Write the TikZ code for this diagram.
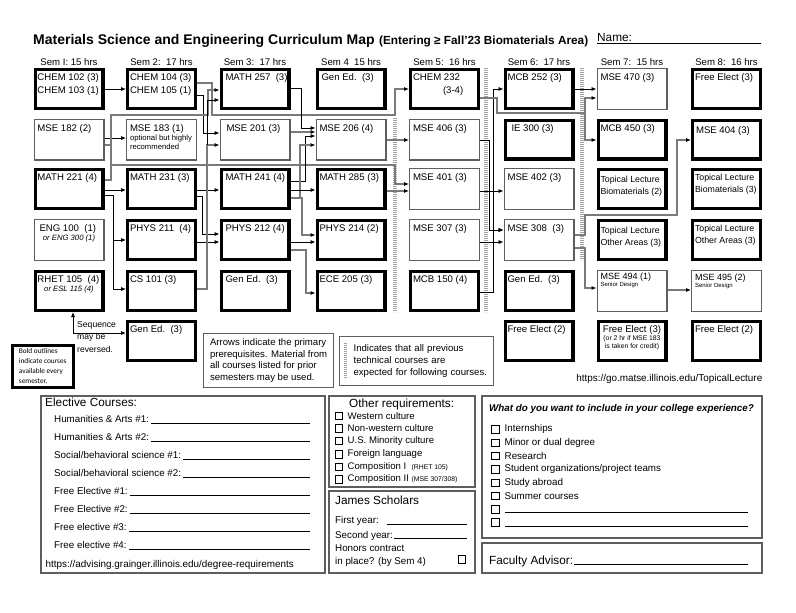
\documentclass[tikz,border=0pt]{standalone}
\usepackage{fontspec}
\setmainfont{Liberation Sans}
\newfontfamily\legendfamily{Carlito}
\usetikzlibrary{arrows.meta}
\definecolor{boxgray}{HTML}{5E5E5E}
\definecolor{linegray}{HTML}{7A7A7A}
\definecolor{sepgray}{HTML}{A3A3A3}
\newcommand{\crsfont}{\fontsize{9.6}{12.4}\selectfont}
\newcommand{\notefont}{\fontsize{7.7}{9}\selectfont}
\newcommand{\tinyfont}{\fontsize{6.8}{8}\selectfont}
\newcommand{\tlfont}{\fontsize{8.8}{12}\selectfont}
\newcommand{\crs}[1]{\parbox[c][30pt][t]{65pt}{\crsfont\raggedright\leftskip=1pt #1}}
\tikzset{
  bbox/.style={draw=black, line width=3.4pt, minimum width=67.6pt, minimum height=38.6pt, inner sep=0pt},
  tbox/.style={draw=boxgray, line width=1.2pt, minimum width=69.8pt, minimum height=40.8pt, inner sep=0pt},
  blk/.style={draw=black, line width=0.9pt, -{Latex[length=5pt,width=4.2pt]}},
  gry/.style={draw=linegray, line width=1.3pt, -{Latex[length=5pt,width=4.2pt,color=black]}},
  sep/.style={draw=sepgray, line width=3.6pt, dash pattern=on 1.1pt off 0.9pt},
  semlbl/.style={inner sep=0pt, font=\fontsize{9.6}{11}\selectfont},
  panel/.style={draw=boxgray, line width=1.2pt},
  txt/.style={inner sep=0pt, anchor=base west, font=\fontsize{9.8}{12}\selectfont},
  head/.style={inner sep=0pt, anchor=base west, font=\fontsize{11.8}{14}\selectfont},
  uline/.style={line width=0.8pt},
  chk/.style={draw=black, line width=0.7pt, minimum size=7.5pt, inner sep=0pt},
}
\begin{document}
\begin{tikzpicture}[x=1pt, y=-1pt]
\useasboundingbox (0,0) rectangle (796,613);
\fill[white] (0,0) rectangle (796,613);

% title line
\node[inner sep=0pt, anchor=base west, font=\bfseries\fontsize{14}{16}\selectfont] (title) at (33,45) {Materials Science and Engineering Curriculum Map};
\node[inner sep=0pt, anchor=base west, font=\bfseries\fontsize{11.8}{14}\selectfont] (subtitle) at ([xshift=4pt]title.base east) {(Entering ≥ Fall’23 Biomaterials Area)};
\node[head] (name) at (597,41.5) {Name:};
\draw[uline] (name.base west |- 0,43.5) -- (761,43.5);

% semester headings
\node[semlbl] (sem1) at (69,61.7) {Sem I: 15 hrs};
\node[semlbl] (sem2) at (161.5,61.7) {Sem 2:\ \ 17 hrs};
\node[semlbl] (sem3) at (255,61.7) {Sem 3:\ \ 17 hrs};
\node[semlbl] (sem4) at (351,61.7) {Sem 4\ \ 15 hrs};
\node[semlbl] (sem5) at (444.5,61.7) {Sem 5:\ \ 16 hrs};
\node[semlbl] (sem6) at (539,61.7) {Sem 6:\ \ 17 hrs};
\node[semlbl] (sem7) at (632,61.7) {Sem 7:\ \ 15 hrs};
\node[semlbl] (sem8) at (726.5,61.7) {Sem 8:\ \ 16 hrs};

% row 1
\node[bbox] (c102) at (69,89) {\crs{CHEM 102 (3)\\CHEM 103 (1)}};
\node[bbox] (c104) at (161.5,89) {\crs{CHEM 104 (3)\\CHEM 105 (1)}};
\node[bbox] (m257) at (255,89) {\crs{\hspace*{2pt}MATH 257\ \ (3)}};
\node[bbox] (ge4) at (351,89) {\crs{\hspace*{2pt}Gen Ed.\ \ (3)}};
\node[bbox] (c232) at (444.5,89) {\crs{CHEM 232\\\hspace*{30pt}(3-4)}};
\node[bbox] (mcb252) at (539,89) {\crs{MCB 252 (3)}};
\node[tbox] (mse470) at (632,89) {\crs{MSE 470 (3)}};
\node[bbox] (fe8a) at (726.5,89) {\crs{Free Elect (3)}};

% row 2
\node[tbox] (mse182) at (69,139.5) {\crs{MSE 182 (2)}};
\node[tbox] (mse183) at (161.5,139.5) {\crs{MSE 183 (1)\par{\notefont optional but highly\\recommended\par}}};
\node[tbox] (mse201) at (255,139.5) {\crs{\hspace*{3pt}MSE 201 (3)}};
\node[tbox] (mse206) at (351,139.5) {\crs{MSE 206 (4)}};
\node[tbox] (mse406) at (444.5,139.5) {\crs{MSE 406 (3)}};
\node[bbox] (ie300) at (539,139.5) {\crs{\hspace*{4pt}IE 300 (3)}};
\node[bbox] (mcb450) at (632,139.5) {\crs{MCB 450 (3)}};
\node[bbox] (mse404) at (726.5,139.5) {\crs{\vspace*{2pt}\hspace*{1pt}MSE 404 (3)}};

% row 3
\node[bbox] (m221) at (69,189) {\crs{MATH 221 (4)}};
\node[bbox] (m231) at (161.5,189) {\crs{MATH 231 (3)}};
\node[bbox] (m241) at (255,189) {\crs{\hspace*{2pt}MATH 241 (4)}};
\node[bbox] (m285) at (351,189) {\crs{MATH 285 (3)}};
\node[tbox] (mse401) at (444.5,189) {\crs{MSE 401 (3)}};
\node[tbox] (mse402) at (539,189) {\crs{MSE 402 (3)}};
\node[bbox] (tlb7) at (632,189) {\crs{\tlfont\vspace*{2pt}Topical Lecture\\Biomaterials (2)}};
\node[bbox] (tlb8) at (726.5,189) {\crs{\tlfont Topical Lecture\\Biomaterials (3)}};

% row 4
\node[tbox] (eng100) at (69,240) {\crs{\hspace*{2pt}ENG 100\ \ (1)\par{\centering\notefont\itshape or ENG 300 (1)\par}}};
\node[bbox] (phys211) at (161.5,240) {\crs{PHYS 211\ \ (4)}};
\node[bbox] (phys212) at (255,240) {\crs{\hspace*{2pt}PHYS 212 (4)}};
\node[bbox] (phys214) at (351,240) {\crs{PHYS 214 (2)}};
\node[tbox] (mse307) at (444.5,240) {\crs{MSE 307 (3)}};
\node[tbox] (mse308) at (539,240) {\crs{MSE 308\ \ (3)}};
\node[bbox] (tlo7) at (632,240) {\crs{\tlfont\vspace*{2pt}Topical Lecture\\Other Areas (3)}};
\node[bbox] (tlo8) at (726.5,240) {\crs{\tlfont Topical Lecture\\Other Areas (3)}};

% row 5
\node[bbox] (rhet105) at (69,291) {\crs{RHET 105\ \ (4)\par{\centering\notefont\itshape or ESL 115 (4)\par}}};
\node[bbox] (cs101) at (161.5,291) {\crs{CS 101 (3)}};
\node[bbox] (ge3) at (255,291) {\crs{\hspace*{2pt}Gen Ed.\ \ (3)}};
\node[bbox] (ece205) at (351,291) {\crs{ECE 205 (3)}};
\node[bbox] (mcb150) at (444.5,291) {\crs{MCB 150 (4)}};
\node[bbox] (ge6) at (539,291) {\crs{Gen Ed.\ \ (3)}};
\node[tbox] (mse494) at (632,291) {\crs{\fontsize{9}{10}\selectfont\vspace*{-3pt}MSE 494 (1)\par{\fontsize{6}{7}\selectfont Senior Design\par}}};
\node[tbox] (mse495) at (726.5,291) {\crs{\fontsize{9}{10}\selectfont\vspace*{-2pt}MSE 495 (2)\par{\fontsize{6}{7}\selectfont Senior Design\par}}};

% row 6
\node[bbox] (ge2) at (161.5,341) {\crs{Gen Ed.\ \ (3)}};
\node[bbox] (fe6) at (539,341) {\crs{Free Elect (2)}};
\node[bbox] (fe7) at (632,341) {\crs{\centering Free Elect (3)\par{\tinyfont (or 2 hr if MSE 183\\is taken for credit)\par}}};
\node[bbox] (fe8b) at (726.5,341) {\crs{Free Elect (2)}};

% dashed separators
\draw[sep] (395,118) -- (395,312);
\draw[sep] (486,68) -- (486,312);
\draw[sep] (582,68) -- (582,260);

% prerequisite arrows
\draw[blk] (c102.east |- 0,89) -- (c104.west |- 0,89);
\draw[blk] (mse182.east |- 0,138) -- (mse183.west |- 0,138);
\draw[blk] (m221.east |- 0,190) -- (m231.west |- 0,190);
\draw[blk] (m221.east |- 0,195) -| (113,240) -- (phys211.west |- 0,240);
\draw[blk] (113,240) |- (cs101.west |- 0,289);
\draw[blk] (m231.east |- 0,190) -- (m241.west |- 0,190);
\draw[blk] (m231.east |- 0,196) -| (202,234) -- (phys212.west |- 0,234);
\draw[blk] (phys211.east |- 0,242) -- (phys212.west |- 0,242);
\draw[gry] (cs101.east |- 0,289) -| (207,145) -- (mse201.west |- 0,145);
\draw[blk] (c104.east |- 0,95) -| (203,133) -- (mse201.west |- 0,133);
\draw[gry] (c104.east |- 0,83) -| (212,115) -| (395,89) -- (c232.west |- 0,89);
\draw[gry] (m221.east |- 0,180) -| (111,115) -| (208,90) -- (m257.west |- 0,90);
\draw[gry] (mse182.east |- 0,145) -| (111,165) -| (395,184) -- (mse401.west |- 0,184);
\draw[blk] (207,145) |- (m257.west |- 0,100);
\draw[blk] (m257.east |- 0,88) -| (301,128) -- (mse206.west |- 0,128);
\draw[gry] (mse201.east |- 0,132) -- (mse206.west |- 0,132);
\draw[blk] (m241.east |- 0,181) -| (305,136) -- (mse206.west |- 0,136);
\draw[gry] (m241.east |- 0,198) -| (300,145) -- (mse206.west |- 0,145);
\draw[blk] (m241.east |- 0,190) -- (m285.west |- 0,190);
\draw[gry] (m241.east |- 0,198) -| (302,235) -- (phys214.west |- 0,235);
\draw[blk] (phys212.east |- 0,242) -- (phys214.west |- 0,242);
\draw[gry] (phys212.east |- 0,250) -| (306,293) -- (ece205.west |- 0,293);
\draw[gry] (mse206.east |- 0,140) -- (mse406.west |- 0,140);
\draw[gry] (m285.east |- 0,191) -- (mse401.west |- 0,191);
\draw[blk] (mse401.east |- 0,191) -- (mse402.west |- 0,191);
\draw[blk] (mse307.east |- 0,242) -- (mse308.west |- 0,242);
\draw[blk] (mse406.east |- 0,140) -| (489,230) -- (mse308.west |- 0,230);
\draw[blk] (mcb150.east |- 0,292) -| (493,89) -- (mcb252.west |- 0,89);
\draw[blk] (493,230) -- (mse308.west |- 0,230);
\draw[gry] (c232.east |- 0,98) -| (497,113) -| (585,98) -- (mse470.west |- 0,98);
\draw[gry] (585,113) |- (mcb450.west |- 0,140);
\draw[blk] (mcb252.east |- 0,89) -- (mse470.west |- 0,89);
\draw[gry] (mse308.east |- 0,235) -| (585,215) -| (677,140) -- (mse404.west |- 0,140);
\draw[gry] (mse308.east |- 0,248) -| (585,288) -- (mse494.west |- 0,288);
\draw[gry] (mse494.east |- 0,290) -- (mse495.west |- 0,290);

% sequence note
\coordinate (seq) at (73,333);
\draw[black, line width=0.8pt, {Latex[length=5pt,width=4pt]}-{Latex[length=5pt,width=4pt]}] (rhet105.south -| seq) |- (ge2.west |- seq);
\node[inner sep=0pt, anchor=north west, align=left, font=\fontsize{8.6}{12.2}\selectfont] (seqtxt) at (77,321.5) {Sequence\\may be\\reversed.};

% legends
\node[draw=black, line width=3pt, inner xsep=3pt, inner ysep=2pt, anchor=north west, minimum width=61.5pt, minimum height=42pt, align=left, font=\legendfamily\fontsize{7.3}{10}\selectfont] (bold) at (10.5,343.5) {Bold outlines\\indicate courses\\available every\\semester.};
\node[draw=boxgray, line width=1.2pt, anchor=north west, minimum width=130pt, minimum height=54pt, inner xsep=4pt, align=left, font=\fontsize{9.6}{11.5}\selectfont] (arrnote) at (203,333) {Arrows indicate the primary\\prerequisites. Material from\\all courses listed for prior\\semesters may be used.};
\node[draw=boxgray, line width=1.2pt, anchor=north west, minimum width=154pt, minimum height=49pt, inner xsep=4pt, text width=146pt, align=left, font=\fontsize{9.6}{11.7}\selectfont] (sepnote) at (339,336) {\hspace*{10pt}Indicates that all previous\\\hspace*{10pt}technical courses are\\\hspace*{10pt}expected for following courses.};
\draw[sep, line width=3pt] (345.5,343) -- (345.5,379);
\node[inner sep=0pt, anchor=base east, font=\fontsize{9.9}{11}\selectfont] (tlurl) at (762.5,381.5) {https://go.matse.illinois.edu/TopicalLecture};

% elective courses panel
\draw[panel] (41,396) rectangle (325,573);
\node[head] (elec) at (45,406.5) {Elective Courses:};
\node[txt] (ha1) at (54,422.6) {Humanities \& Arts \#1:};
\node[txt] (ha2) at (54,440.3) {Humanities \& Arts \#2:};
\node[txt] (sb1) at (54,458.3) {Social/behavioral science \#1:};
\node[txt] (sb2) at (54,476.3) {Social/behavioral science \#2:};
\node[txt] (fr1) at (54,494.3) {Free Elective \#1:};
\node[txt] (fr2) at (54,512.3) {Free Elective \#2:};
\node[txt] (fr3) at (54,530.3) {Free elective \#3:};
\node[txt] (fr4) at (54,548.3) {Free elective \#4:};
\foreach \lbl in {ha1,ha2,sb1,sb2,fr1,fr2,fr3,fr4}
  \draw[uline] ([xshift=2pt,yshift=-0.8pt]\lbl.base east) -- ([yshift=-0.8pt]\lbl.base east -| 310,0);
\node[txt, font=\fontsize{9.9}{11}\selectfont] (advurl) at (45.5,567) {https://advising.grainger.illinois.edu/degree-requirements};

% other requirements panel
\draw[panel] (329,396) rectangle (475,487);
\node[head] (otherreq) at (349,407.3) {Other requirements:};
\foreach \y/\item in {416/{Western culture}, 428.5/{Non-western culture}, 441/{U.S. Minority culture}, 454.3/{Foreign language}, 466.7/{Composition I\ \ {\fontsize{6.8}{8}\selectfont(RHET 105)}}, 479.3/{Composition II {\fontsize{6.8}{8}\selectfont(MSE 307/308)}}}{
  \node[chk] at (338.8,\y) {};
  \node[txt, anchor=west, font=\fontsize{9.6}{11}\selectfont] at (347.5,\y) {\item};
}

% james scholars panel
\draw[panel] (329,491) rectangle (475,573);
\node[head] (james) at (335,504.8) {James Scholars};
\node[txt] (fy) at (335,523.5) {First year:};
\draw[uline] (387,524.3) -- (466.5,524.3);
\node[txt] (sy) at (335,538.2) {Second year:};
\draw[uline] ([xshift=1pt,yshift=-0.5pt]sy.base east) -- (466.5,538.7);
\node[txt] (hon) at (335,551.8) {Honors contract};
\node[txt] (hon2) at (335,564.2) {in place? (by Sem 4)};
\node[chk] (honchk) at (462,559.5) {};

% college experience panel
\draw[panel] (482,396) rectangle (762,538);
\node[txt, font=\bfseries\itshape\fontsize{9.8}{12}\selectfont] (college) at (489,411.8) {What do you want to include in your college experience?};
\foreach \y/\item in {429.3/{Internships}, 442.7/{Minor or dual degree}, 456/{Research}, 469.3/{Student organizations/project teams}, 482.7/{Study abroad}, 496/{Summer courses}, 509.3/{}, 522.3/{}}{
  \node[chk] at (495.3,\y) {};
  \node[txt, anchor=west] at (504.5,\y) {\item};
}
\draw[uline] (505,512.7) -- (748.3,512.7);
\draw[uline] (505,526.3) -- (748.3,526.3);

% faculty advisor panel
\draw[panel] (482,543) rectangle (762,573);
\node[head] (advisor) at (489,564) {Faculty Advisor:};
\draw[uline] (advisor.base east) ++(0.5,0.5) -- (748.3,564.5);
\end{tikzpicture}
\end{document}
